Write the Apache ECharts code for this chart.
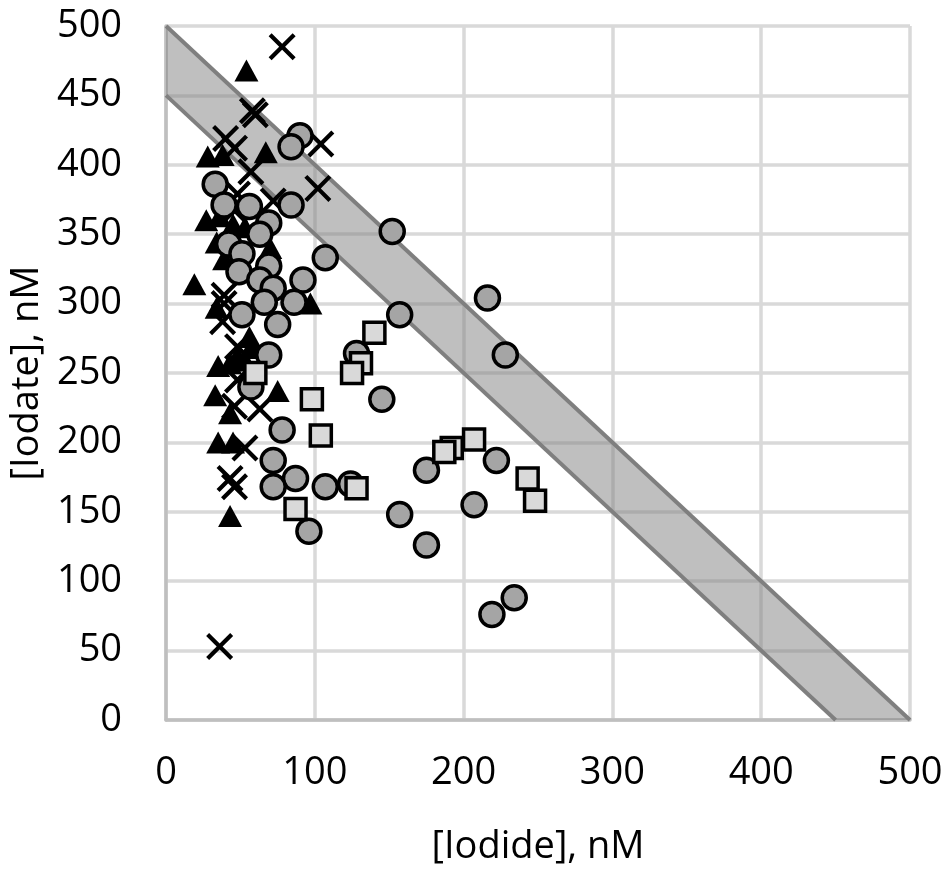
<!DOCTYPE html>
<html>
<head>
<meta charset="utf-8">
<script src="https://cdn.jsdelivr.net/npm/echarts@6/dist/echarts.min.js"></script>
<style>
  html, body { margin: 0; padding: 0; background: #fff; }
  #main { width: 950px; height: 874px; }
</style>
</head>
<body>
<div id="main"></div>
<script>
// ticks
var xTicks = [0, 100, 200, 300, 400, 500];
var yTicks = [0, 50, 100, 150, 200, 250, 300, 350, 400, 450, 500];

// grey band between [iodide]+[iodate] = 450 and 500
var bandLow = [[0, 450], [450, 0]];
var bandHigh = [[0, 500], [500, 0]];
var bandPoly = [[0, 450], [0, 500], [500, 0], [450, 0]];

// [iodide, iodate] nM
var circles = [
  [90, 421], [84, 413], [33, 386], [39, 371], [56, 370], [84, 371], [69, 358], [63, 350],
  [152, 352], [42, 343], [51, 336], [69, 327], [107, 333], [49, 323], [63, 317], [92, 317],
  [72, 311], [66, 301], [86, 301], [216, 304], [51, 292], [157, 292], [75, 285], [69, 263],
  [128, 264], [228, 263], [57, 240], [145, 231], [78, 209], [72, 187], [222, 187], [175, 180],
  [87, 174], [72, 168], [107, 168], [124, 170], [207, 155], [157, 148], [96, 136], [175, 126],
  [234, 88], [219, 76]
];
var squares = [
  [140, 279], [131, 257], [125, 250], [60, 250], [98, 231], [104, 205], [207, 202],
  [192, 196], [187, 193], [243, 174], [248, 158], [128, 167], [87, 152]
];
var triangles = [
  [54, 468], [28, 406], [38, 407], [67, 409], [27, 360], [36, 363], [45, 357], [53, 355],
  [34, 344], [39, 332], [70, 340], [19, 314], [97, 300], [34, 297], [56, 276], [57, 268],
  [35, 255], [43, 257], [48, 262], [53, 259], [33, 234], [75, 237], [43, 221], [35, 200],
  [45, 200], [43, 147]
];
var crosses = [
  [78, 485], [58, 439], [60, 436], [40, 419], [46, 412], [104, 415], [57, 395], [102, 383],
  [48, 379], [72, 374], [46, 367], [39, 306], [39, 300], [38, 287], [48, 269], [48, 245],
  [46, 226], [63, 224], [53, 196], [43, 174], [46, 168], [36, 53]
];

// "x" drawn as a filled outline
var crossPath = 'path://M0,1.1 L1.1,0 L5,3.9 L8.9,0 L10,1.1 L6.1,5 L10,8.9 L8.9,10 L5,6.1 L1.1,10 L0,8.9 L3.9,5 Z';
var font = '"Open Sans", "Noto Sans", sans-serif';

var myChart = echarts.init(document.getElementById('main'));
var option = {
  animation: false,
  backgroundColor: '#fff',
  grid: { left: 166, right: 40, top: 26, bottom: 154 },
  xAxis: {
    type: 'value', min: 0, max: 500, interval: 100,
    name: '[Iodide], nM', nameLocation: 'middle', nameGap: 108,
    nameTextStyle: { fontFamily: font, fontSize: 38, color: '#000' },
    axisLine: { lineStyle: { color: '#bfbfbf', width: 3.5 } },
    axisTick: { show: false },
    axisLabel: { fontFamily: font, fontSize: 38, color: '#000', margin: 34 },
    splitLine: { lineStyle: { color: '#d9d9d9', width: 3.5 } }
  },
  yAxis: {
    type: 'value', min: 0, max: 500, interval: 50,
    name: '[Iodate], nM', nameLocation: 'middle', nameGap: 92,
    nameTextStyle: { fontFamily: font, fontSize: 38, color: '#000' },
    axisLine: { show: true, lineStyle: { color: '#bfbfbf', width: 3.5 } },
    axisTick: { show: false },
    axisLabel: { fontFamily: font, fontSize: 38, color: '#000', margin: 44 },
    splitLine: { lineStyle: { color: '#d9d9d9', width: 3.5 } }
  },
  series: [
    {
      type: 'custom', z: 1, silent: true,
      data: [0],
      renderItem: function (params, api) {
        var pts = bandPoly.map(function (p) { return api.coord(p); });
        return {
          type: 'polygon',
          shape: { points: pts },
          style: { fill: 'rgba(128,128,128,0.5)', stroke: 'none' }
        };
      }
    },
    {
      type: 'line', data: bandLow, symbol: 'none', z: 2, silent: true,
      lineStyle: { color: '#7f7f7f', width: 4 }
    },
    {
      type: 'line', data: bandHigh, symbol: 'none', z: 2, silent: true,
      lineStyle: { color: '#7f7f7f', width: 4 }
    },
    {
      name: 'triangles', type: 'scatter', data: triangles, z: 3,
      symbol: 'triangle', symbolSize: [24, 22],
      itemStyle: { color: '#000', opacity: 1 }
    },
    {
      name: 'crosses', type: 'scatter', data: crosses, z: 4,
      symbol: crossPath, symbolSize: 27,
      itemStyle: { color: '#000', opacity: 1 }
    },
    {
      name: 'circles', type: 'scatter', data: circles, z: 5,
      symbol: 'circle', symbolSize: 24,
      itemStyle: { color: '#a5a5a5', borderColor: '#000', borderWidth: 3.5, opacity: 1 }
    },
    {
      name: 'squares', type: 'scatter', data: squares, z: 6,
      symbol: 'rect', symbolSize: 21,
      itemStyle: { color: '#d9d9d9', borderColor: '#000', borderWidth: 3.5, opacity: 1 }
    }
  ]
};
myChart.setOption(option);
</script>
</body>
</html>
